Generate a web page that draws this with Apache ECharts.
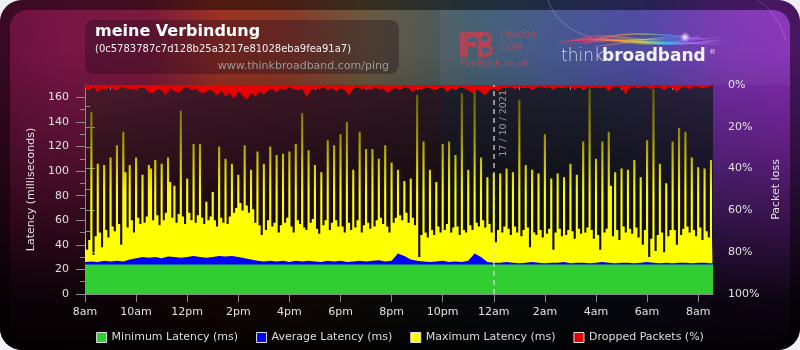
<!DOCTYPE html>
<html><head><meta charset="utf-8">
<script src="https://cdn.jsdelivr.net/npm/echarts@6/dist/echarts.min.js"></script>
<style>html,body{margin:0;padding:0;background:#f0f0f2;}#c{width:800px;height:350px;}</style>
</head><body><div id="c"></div><script>
// ---- data (hours counted from 8am, 16/10/2021) ----
const tickLabels = ['8am','10am','12pm','2pm','4pm','6pm','8pm','10pm','12am','2am','4am','6am','8am'];
const hourTicks = [0,2,4,6,8,10,12,14,16,18,20,22,24];
const hourMinorTicks = [1,3,5,7,9,11,13,15,17,19,21,23];
const latencyTicks = [0,20,40,60,80,100,120,140,160];
const latencyMinorTicks = [10,30,50,70,90,110,130,150];
const X_MAX = 24.58;
const dateMarkHour = 16;
const dateMarkLabel = '17 / 10 / 2021';
const legendNames = ['Minimum Latency (ms)','Average Latency (ms)','Maximum Latency (ms)','Dropped Packets (%)'];

// maximum latency, one value every 5 minutes
const maxLatency = [52,36,44,
148,32,47, 106,50,38, 105,52,46, 111,55,51, 121,57,40, 132,99,54, 105,60,50, 111,62,57, 97,58,63, 105,102,60,
109,64,56, 106,60,66, 111,91,62, 88,58,65, 149,63,57, 94,66,60, 122,58,64, 122,62,57, 75,60,63,
83,60,55, 120,62,58, 110,57,63, 106,66,70, 97,74,68, 121,72,66, 101,69,58, 116,56,48, 106,52,60, 120,55,58,
113,50,56, 114,58,62, 116,55,50, 122,60,57, 147,54,52, 117,58,61, 105,53,49, 99,56,60, 125,52,58, 121,60,55,
130,55,50, 140,58,52, 101,54,60, 132,50,56, 118,58,53, 118,55,60, 110,62,57, 121,55,50, 107,58,62, 101,64,60,
92,66,58, 94,62,56, 162,30,48, 124,50,46, 101,52,48, 91,55,50, 122,52,57, 124,50,54, 113,55,48, 163,52,50,
101,56,52, 165,58,55, 111,60,54, 95,57,50, 98,42,52, 98,50,55, 102,53,48, 99,55,50, 158,47,52, 105,54,38,
101,50,48, 98,52,46, 130,49,53, 94,36,50, 98,53,47, 95,48,52, 106,51,45, 97,53,49, 124,50,54,
167,52,45, 110,48,36, 124,50,53, 132,88,47, 99,52,44, 102,55,50, 101,53,49, 109,54,46, 95,40,52, 125,30,45,
167,35,48, 106,50,34, 90,47,52, 124,52,40, 135,48,53, 132,55,50, 111,52,47, 103,54,44, 102,51,46, 109,45];

// average latency, one value every 15 minutes
const avgLatency = [26,26.5,26,27,26.5,27,26.5,28,
29,30,29.5,30,29,30.5,30,29.5,30,31,30,29.5,30,31,30.5,31,30,29,28,
27,26.5,27,26.5,27,26,27,26.5,27,26.5,26,27,26.5,27,26,26.5,27,26.5,27,27.5,26.5,27,
33,31,28,
27,26.5,26,26.5,27,26,26.5,26,27,
33,30,
26,25.5,25.5,26,25.5,25,25.5,26,25.5,25,25.5,25.5,26,25,25.5,25.5,25,25.5,26,25.5,25,25.5,25.5,25,25.5,26,25.5,25,25.5,25,25.5,25.5,25,25.5,25.5,25,25.5];

// minimum latency, one value per hour
const minLatency = [24,24,24,24,24,24,24,24,24,24,24,24,24,24,24,24,24,24,24,24,24,24,24,24,24,24];

// dropped packets (%), one value every 10 minutes
const droppedPackets = [1.5,2.5,1,3.5,1.5,2,1,2.5,1.5,1,2,1.5,2.5,1,1.5,3.5,4,2,2.5,5,1.5,3,4,1.5,1,2.5,1.5,3.5,4,2,
3,5,2.5,5.5,4,6.5,3,5,7,4,5.5,3,4.5,2.5,2,3.5,1.5,2.5,1,2,2.5,1.5,6,2.5,1.5,2,1,2.5,1.5,3,
1.5,2.5,5,1.5,1,2,1.5,2.5,1,2,1.5,4,2,1.5,2.5,1,1.5,3.5,1.5,2.5,1,1.5,2.5,1.5,1,3.5,1.5,2.5,1,1.5,
2.5,4,2,3.5,5,2.5,1.5,3,1,1.5,0.8,2,1,1.5,0.8,2.5,1,0.8,1.5,1,2.5,0.8,1.5,1,0.8,2,1,2.5,0.8,1.5,
1,1.5,0.8,3,1,0.8,1.5,4.5,1,0.8,1.5,0.8,1,2,0.8,1,2.5,0.8,1.5,3.5,1,0.8,2,0.8,1,1.5,0.8,1];

function toPairs(arr, stepHours){ return arr.map((v,i)=>[i*stepHours, v]); }

// ---- styling ----
const FONT = 'DejaVu Sans';
const axisGray = '#8a8a8a';
const panelGrad = {type:'linear',x:0,y:0,x2:1,y2:0,colorStops:[
 {offset:0,color:'#6e1240'},{offset:0.07,color:'#7a1646'},{offset:0.18,color:'#7c1a3c'},
 {offset:0.27,color:'#9c3222'},{offset:0.36,color:'#8a3a28'},{offset:0.46,color:'#6a5a40'},
 {offset:0.54,color:'#505a58'},{offset:0.6,color:'#3e5a6e'},{offset:0.7,color:'#40508a'},
 {offset:0.81,color:'#4a40a0'},{offset:0.91,color:'#7a30b0'},{offset:1,color:'#8a2cb8'}]};
const fadeGrad = {type:'linear',x:0,y:0,x2:0,y2:1,colorStops:[
 {offset:0,color:'rgba(0,0,0,0)'},{offset:0.15,color:'rgba(0,0,0,0.02)'},{offset:0.43,color:'rgba(0,0,0,0.32)'},
 {offset:0.71,color:'rgba(0,0,0,0.7)'},{offset:0.86,color:'rgba(0,0,0,0.9)'},{offset:1,color:'rgba(0,0,0,0.96)'}]};
const plotGrad = {type:'linear',x:0,y:0,x2:1,y2:0,colorStops:[
 {offset:0,color:'#4a1a2c'},{offset:0.3,color:'#3c1626'},{offset:0.56,color:'#2c1822'},
 {offset:0.575,color:'#1e1e2c'},{offset:0.8,color:'#1e2030'},{offset:1,color:'#2a2040'}]};
const plotFade = {type:'linear',x:0,y:0,x2:0,y2:1,colorStops:[
 {offset:0,color:'rgba(0,0,0,0)'},{offset:0.5,color:'rgba(0,0,0,0.5)'},{offset:1,color:'rgba(0,0,0,0.8)'}]};
const yellowGrad = {type:'linear',x:0,y:85,x2:0,y2:294,global:true,colorStops:[
 {offset:0,color:'#605800'},{offset:0.265,color:'#a09800'},{offset:0.41,color:'#dcd400'},
 {offset:0.52,color:'#ffff00'},{offset:1,color:'#ffff00'}]};
const swirlGrad = {type:'linear',x:557,y:0,x2:722,y2:0,global:true,colorStops:[
 {offset:0,color:'rgba(255,60,100,0.1)'},{offset:0.2,color:'#ff4060'},{offset:0.38,color:'#ffa030'},
 {offset:0.52,color:'#c8e040'},{offset:0.66,color:'#30c8ff'},{offset:0.82,color:'#b060ff'},{offset:1,color:'rgba(220,140,255,0.1)'}]};
const fbRed = 'rgba(196,62,80,0.8)';

function curve(x1,y1,c1x,c1y,c2x,c2y,x2,y2,w,op){
  return {type:'bezierCurve',z:10,shape:{x1:x1,y1:y1,cpx1:c1x,cpy1:c1y,cpx2:c2x,cpy2:c2y,x2:x2,y2:y2},
    style:{fill:null,stroke:swirlGrad,lineWidth:w,opacity:op}};
}

const graphicEls = [
 {type:'rect',z:-100,shape:{x:0,y:0,width:800,height:350,r:22},style:{fill:panelGrad}},
 {type:'rect',z:-99,shape:{x:0,y:0,width:800,height:350,r:22},style:{fill:'rgba(0,0,0,0.48)'}},
 {type:'rect',z:-98,shape:{x:10,y:10,width:780,height:332,r:17},style:{fill:panelGrad}},
 {type:'rect',z:-97,shape:{x:440,y:10,width:350,height:75,r:[0,17,0,0]},style:{fill:'rgba(160,200,230,0.08)'}},
 {type:'rect',z:-96,shape:{x:0,y:0,width:800,height:350,r:22},style:{fill:fadeGrad}},
 {type:'rect',z:-95,shape:{x:85,y:85,width:628,height:209},style:{fill:plotGrad}},
 {type:'rect',z:-94,shape:{x:85,y:85,width:628,height:209},style:{fill:plotFade}},
 {type:'bezierCurve',z:-93,shape:{x1:548,y1:0,cpx1:556,cpy1:22,cpx2:570,cpy2:30,x2:592,y2:38},style:{fill:null,stroke:'rgba(255,255,255,0.22)',lineWidth:1}},
 {type:'bezierCurve',z:-93,shape:{x1:758,y1:0,cpx1:772,cpy1:10,cpx2:780,cpy2:22,x2:786,y2:40},style:{fill:null,stroke:'rgba(255,255,255,0.18)',lineWidth:1}},
 // title box
 {type:'rect',z:-90,shape:{x:85,y:20,width:314,height:54,r:9},style:{fill:'rgba(25,10,25,0.35)'}},
 {type:'text',z:10,style:{x:95,y:32,text:'meine Verbindung',fill:'#ffffff',font:'bold 16px "DejaVu Sans"',verticalAlign:'middle'}},
 {type:'text',z:10,style:{x:95,y:49,text:'(0c5783787c7d128b25a3217e81028eba9fea91a7)',fill:'#f0f0f0',font:'10px "DejaVu Sans"',verticalAlign:'middle'}},
 {type:'text',z:10,style:{x:389,y:66.5,text:'www.thinkbroadband.com/ping',fill:'#9a9a9a',font:'11px "DejaVu Sans"',align:'right',verticalAlign:'middle'}},
 // FireBrick logo
 {type:'rect',z:10,shape:{x:460,y:32,width:8,height:25,r:[3,0,0,0]},style:{fill:fbRed}},
 {type:'rect',z:10,shape:{x:468,y:32,width:14,height:6},style:{fill:fbRed}},
 {type:'rect',z:10,shape:{x:468,y:42,width:8,height:5},style:{fill:fbRed}},
 {type:'rect',z:10,shape:{x:480,y:34,width:10,height:9,r:[0,4,4,0]},style:{fill:null,stroke:fbRed,lineWidth:4}},
 {type:'rect',z:10,shape:{x:480,y:45,width:11,height:10,r:[0,5,5,0]},style:{fill:null,stroke:fbRed,lineWidth:4}},
 {type:'text',z:10,style:{x:500,y:36,text:'FB6000',fill:'rgba(196,70,85,0.85)',font:'9.5px "DejaVu Sans"',verticalAlign:'middle'}},
 {type:'text',z:10,style:{x:500,y:48,text:'CQM',fill:'rgba(196,70,85,0.85)',font:'9.5px "DejaVu Sans"',verticalAlign:'middle'}},
 {type:'text',z:10,style:{x:460,y:63.5,text:'FireBrick.co.uk',fill:'rgba(196,70,85,0.85)',font:'9.5px "DejaVu Sans"',verticalAlign:'middle'}},
 // thinkbroadband logo
 curve(557,44, 600,30, 640,52, 722,40, 2,0.8),
 curve(560,42, 605,36, 650,44, 720,44, 1.2,0.7),
 curve(565,45, 610,38, 660,40, 720,38, 1,0.6),
 curve(575,40, 612,28, 650,50, 700,38, 3,0.35),
 curve(585,43, 620,30, 655,34, 690,37, 1.5,0.55),
 curve(595,46, 625,46, 660,30, 712,41, 1.2,0.5),
 curve(600,38, 630,44, 665,48, 700,36, 2.5,0.3),
 {type:'circle',z:11,shape:{cx:685,cy:37,r:5},style:{fill:{type:'radial',x:0.5,y:0.5,r:0.5,colorStops:[{offset:0,color:'rgba(255,255,255,1)'},{offset:1,color:'rgba(255,200,255,0)'}]}}},
 {type:'text',z:10,style:{x:561,y:57,text:'think',fill:'#d4d4d4',font:'200 17px "DejaVu Sans"',verticalAlign:'middle'}},
 {type:'text',z:10,style:{x:602,y:57,text:'broadband',fill:'#f2f2f2',font:'bold 17px "DejaVu Sans"',verticalAlign:'middle'}},
 {type:'text',z:10,style:{x:709,y:52,text:'®',fill:'#dddddd',font:'7px "DejaVu Sans"',verticalAlign:'middle'}}
];

const lineCommon = {type:'line',showSymbol:false,symbol:'none',smooth:false,silent:true,lineStyle:{width:0,opacity:0},emphasis:{disabled:true}};

const option = {
 animation:false,
 backgroundColor:'transparent',
 graphic:{elements:graphicEls},
 grid:{left:85,right:87,top:85,bottom:56,show:false,containLabel:false,outerBoundsMode:'none'},
 legend:{data:legendNames,left:'center',top:327,icon:'rect',itemWidth:10,itemHeight:10,itemGap:18,selectedMode:false,
   textStyle:{color:'#dddddd',fontSize:11,fontFamily:FONT},itemStyle:{borderColor:'#e0e0e0',borderWidth:1}},
 xAxis:[
  {type:'value',min:0,max:X_MAX,interval:2,position:'bottom',
   axisLine:{show:true,lineStyle:{color:axisGray,width:1}},
   axisTick:{show:true,length:8,customValues:hourTicks,lineStyle:{color:axisGray}},
   axisLabel:{color:'#e0e0e0',fontSize:11,fontFamily:FONT,margin:13,customValues:hourTicks,
     formatter:(v)=>{const k=hourTicks.indexOf(Math.round(v)); return (k>=0 && Math.abs(v-hourTicks[k])<1e-6)?tickLabels[k]:'';}},
   splitLine:{show:false}},
  {type:'value',min:0,max:X_MAX,interval:1,position:'bottom',offset:0,
   axisLine:{show:false},axisTick:{show:true,length:5,customValues:hourMinorTicks,lineStyle:{color:axisGray}},
   axisLabel:{show:false},splitLine:{show:false}}
 ],
 yAxis:[
  {type:'value',position:'left',min:0,max:170,interval:20,
   name:'Latency (milliseconds)',nameLocation:'middle',nameGap:48,nameRotate:90,
   nameTextStyle:{color:'#e0e0e0',fontSize:11,fontFamily:FONT},
   axisLine:{show:true,lineStyle:{color:axisGray}},
   axisTick:{show:true,length:9,customValues:latencyTicks,lineStyle:{color:axisGray}},
   axisLabel:{color:'#e0e0e0',fontSize:11,fontFamily:FONT,margin:16,customValues:latencyTicks},
   splitLine:{show:false}},
  {type:'value',position:'right',inverse:true,min:0,max:100,interval:20,
   name:'Packet loss',nameLocation:'middle',nameGap:45,nameRotate:90,
   nameTextStyle:{color:'#e0e0e0',fontSize:11,fontFamily:FONT},
   axisLine:{show:true,lineStyle:{color:axisGray}},
   axisTick:{show:true,length:10,lineStyle:{color:axisGray}},
   minorTick:{show:true,splitNumber:2,length:5,lineStyle:{color:axisGray}},
   axisLabel:{color:'#e0e0e0',fontSize:11,fontFamily:FONT,margin:15,formatter:'{value}%'},
   splitLine:{show:false},minorSplitLine:{show:false}},
  {type:'value',position:'left',offset:0,min:0,max:170,interval:10,
   axisLine:{show:false},axisTick:{show:true,length:5,customValues:latencyMinorTicks,lineStyle:{color:axisGray}},
   axisLabel:{show:false},splitLine:{show:false}}
 ],
 series:[
  Object.assign({},lineCommon,{name:legendNames[3],xAxisIndex:0,yAxisIndex:1,data:toPairs(droppedPackets,10/60),
    itemStyle:{color:'#e60000'},areaStyle:{color:'#e60000',opacity:1}}),
  Object.assign({},lineCommon,{name:legendNames[2],xAxisIndex:0,yAxisIndex:0,data:toPairs(maxLatency,5/60),step:'middle',
    itemStyle:{color:'#ffff00'},areaStyle:{color:yellowGrad,opacity:1}}),
  Object.assign({},lineCommon,{name:legendNames[1],xAxisIndex:0,yAxisIndex:0,data:toPairs(avgLatency,15/60),
    itemStyle:{color:'#0000ff'},areaStyle:{color:'#0000ff',opacity:1}}),
  Object.assign({},lineCommon,{name:legendNames[0],xAxisIndex:0,yAxisIndex:0,data:toPairs(minLatency,1),
    itemStyle:{color:'#32cd32'},areaStyle:{color:'#32cd32',opacity:1},
    markLine:{silent:true,symbol:['none','none'],animation:false,
      lineStyle:{color:'rgba(215,215,215,0.85)',type:[5,4],width:1.5},
      label:{show:true,formatter:dateMarkLabel,position:'insideEndBottom',color:'rgba(170,170,170,0.9)',fontSize:9.5,fontFamily:FONT,distance:5},
      data:[{xAxis:dateMarkHour}]}})
 ]
};
const chart = echarts.init(document.getElementById('c'),null,{renderer:'canvas',width:800,height:350});
chart.setOption(option);
</script></body></html>
